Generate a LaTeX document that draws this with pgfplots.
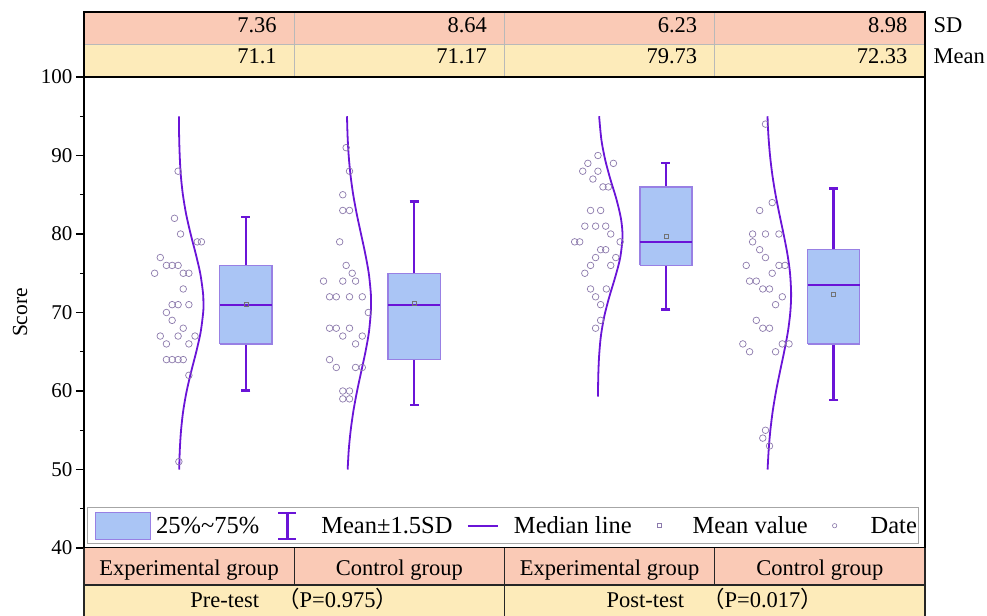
\documentclass[border=0pt]{standalone}
\usepackage{fontspec}
\setmainfont{Liberation Serif}
\newfontfamily\cjk{Noto Sans CJK SC}
\usepackage{pgfplots}
\pgfplotsset{compat=1.18}
\usepackage{pgfplotstable}

\definecolor{boxfill}{RGB}{170,197,245}
\definecolor{boxedge}{RGB}{152,128,228}
\definecolor{violetc}{RGB}{106,20,215}
\definecolor{scatc}{RGB}{140,122,172}
\definecolor{sdrow}{RGB}{250,202,182}
\definecolor{meanrow}{RGB}{253,235,186}
\newcommand\tabfont{\fontsize{22.5}{27}\selectfont}

% individual scores (x = jittered position, y = score)
\pgfplotstableread{
x y
1.128 51
1.119 88
1.076 82
1.148 80
1.347 79
1.396 79
0.907 77
0.980 76
1.048 76
1.119 76
0.840 75
1.180 75
1.247 75
1.180 73
1.048 71
1.119 71
1.247 71
0.980 70
1.048 69
1.180 68
0.907 67
1.119 67
1.320 67
0.980 66
1.247 66
0.980 64
1.048 64
1.119 64
1.180 64
1.247 62
}\preExp
\pgfplotstableread{
x y
3.117 91
3.157 88
3.077 85
3.077 83
3.157 83
3.040 79
3.117 76
3.189 75
2.848 74
3.077 74
3.229 74
2.920 72
3.000 72
3.157 72
3.309 72
3.381 70
2.920 68
3.000 68
3.157 68
3.077 67
3.309 67
3.229 66
2.920 64
3.000 63
3.229 63
3.309 63
3.077 60
3.157 60
3.077 59
3.157 59
}\preCtl
\pgfplotstableread{
x y
6.111 90
5.991 89
6.295 89
5.930 88
6.111 88
6.051 87
6.171 86
6.235 86
6.023 83
6.143 83
5.955 81
6.083 81
6.203 81
6.263 80
5.834 79
5.894 79
6.375 79
6.143 78
6.203 78
6.083 77
6.323 77
6.023 76
6.263 76
5.955 75
6.023 73
6.211 73
6.083 72
6.143 71
6.143 69
6.083 68
}\postExp
\pgfplotstableread{
x y
8.103 94
8.183 84
8.034 83
7.950 80
8.103 80
8.263 80
7.950 79
8.034 78
8.103 77
7.874 76
8.263 76
8.335 76
8.183 75
7.914 74
7.994 74
8.071 73
8.151 73
8.303 72
8.223 71
7.994 69
8.071 68
8.151 68
7.834 66
8.303 66
8.383 66
7.914 65
8.223 65
8.103 55
8.071 54
8.151 53
}\postCtl

\begin{document}
\begin{tikzpicture}
\begin{axis}[
  at={(0pt,0pt)}, anchor=south west,
  scale only axis, width=841pt, height=471pt,
  xmin=0, xmax=10, ymin=40, ymax=100,
  xtick=\empty,
  ytick={40,50,...,100}, minor y tick num=1,
  ytick pos=left, tick align=outside,
  major tick length=8pt, minor tick length=4pt,
  tick style={black, line width=1.3pt},
  axis line style={black, line width=1.4pt},
  /pgf/number format/assume math mode=true,
  yticklabel style={font=\fontsize{21}{21}\selectfont},
  ylabel={Score},
  ylabel style={font=\fontsize{21.5}{22}\selectfont, at={(axis description cs:-0.076,0.5)}, anchor=center},
  clip=false,
  legend columns=-1,
  legend style={
    at={(axis description cs:0.0036,0.0085)}, anchor=south west,
    draw=gray!70, line width=1pt, fill=white,
    inner xsep=2pt, inner ysep=3.5pt,
    font=\fontsize{24.5}{26}\selectfont,
    nodes={inner sep=0pt, text height=0.7em, text depth=0pt},
    column sep=0pt,
    /tikz/every even column/.style={column sep=0pt},
  },
]

% summary table above the plot: SD and Mean
\fill[sdrow] (0,104.08) rectangle (10,108.28);
\fill[meanrow] (0,100) rectangle (10,104.08);
\draw[gray!55, line width=1pt] (0,104.08) -- (10,104.08)
  (2.5,100) -- (2.5,108.28) (5,100) -- (5,108.28) (7.5,100) -- (7.5,108.28);
\draw[black, line width=1.4pt] (0,100) rectangle (10,108.28);
\node[anchor=base east, font=\tabfont, xshift=-14pt] at (2.5,105.67) {7.36};
\node[anchor=base east, font=\tabfont, xshift=-14pt] at (5,105.67) {8.64};
\node[anchor=base east, font=\tabfont, xshift=-14pt] at (7.5,105.67) {6.23};
\node[anchor=base east, font=\tabfont, xshift=-14pt] at (10,105.67) {8.98};
\node[anchor=base east, font=\tabfont, xshift=-14pt] at (2.5,101.66) {71.1};
\node[anchor=base east, font=\tabfont, xshift=-14pt] at (5,101.66) {71.17};
\node[anchor=base east, font=\tabfont, xshift=-14pt] at (7.5,101.66) {79.73};
\node[anchor=base east, font=\tabfont, xshift=-14pt] at (10,101.66) {72.33};
\node[anchor=base west, font=\tabfont, xshift=5pt] at (10,105.67) {SD};
\node[anchor=base west, font=\tabfont, xshift=5pt] at (10,101.66) {Mean};

% group table below the plot
\fill[sdrow] (0,35.29) rectangle (10,40);
\fill[meanrow] (0,31.34) rectangle (10,35.29);
\draw[black!85, line width=1.3pt] (0,35.29) -- (10,35.29)
  (2.5,35.29) -- (2.5,40) (5,31.34) -- (5,40) (7.5,35.29) -- (7.5,40)
  (0,31.34) -- (0,40) (10,31.34) -- (10,40);
\node[anchor=base, font=\tabfont] at (1.25,36.56) {Experimental group};
\node[anchor=base, font=\tabfont] at (3.75,36.56) {Control group};
\node[anchor=base, font=\tabfont] at (6.25,36.56) {Experimental group};
\node[anchor=base, font=\tabfont] at (8.75,36.56) {Control group};
\node[anchor=base, font=\tabfont] at (2.5,32.36) {Pre-test\hspace{18pt}{\cjk （}P=0.975{\cjk ）}};
\node[anchor=base, font=\tabfont] at (7.5,32.36) {Post-test\hspace{18pt}{\cjk （}P=0.017{\cjk ）}};

% fitted normal curves
\addplot[violetc, line width=1.8pt, smooth, forget plot] coordinates {
 (1.132,50) (1.139,52.5) (1.154,55) (1.180,57.5) (1.221,60) (1.275,62.5)
 (1.335,65) (1.387,67.5) (1.417,70) (1.420,71.1) (1.415,72.5) (1.382,75)
 (1.328,77.5) (1.268,80) (1.215,82.5) (1.176,85) (1.151,87.5) (1.138,90)
 (1.131,92.5) (1.129,95)};
\addplot[violetc, line width=1.8pt, smooth, forget plot] coordinates {
 (3.135,50) (3.148,52.5) (3.171,55) (3.204,57.5) (3.247,60) (3.297,62.5)
 (3.347,65) (3.388,67.5) (3.410,70) (3.413,71.17) (3.410,72.5) (3.386,75)
 (3.344,77.5) (3.294,80) (3.244,82.5) (3.201,85) (3.169,87.5) (3.147,90)
 (3.134,92.5) (3.127,95)};
\addplot[violetc, line width=1.8pt, smooth, forget plot] coordinates {
 (6.111,59.3) (6.115,62) (6.125,64.5) (6.146,67) (6.186,69.5) (6.246,72)
 (6.316,74.5) (6.376,77) (6.403,79.73) (6.384,82) (6.329,84.5) (6.258,87)
 (6.196,89.5) (6.152,92) (6.125,95)};
\addplot[violetc, line width=1.8pt, smooth, forget plot] coordinates {
 (8.128,50) (8.141,52.5) (8.161,55) (8.190,57.5) (8.229,60) (8.276,62.5)
 (8.325,65) (8.369,67.5) (8.398,70) (8.408,72.33) (8.395,75) (8.363,77.5)
 (8.318,80) (8.269,82.5) (8.223,85) (8.185,87.5) (8.157,90) (8.138,92.5)
 (8.127,95)};

% individual scores
\addplot[only marks, mark=o, mark size=3.3pt, mark options={draw=scatc, line width=0.7pt}, forget plot] table {\preExp};
\addplot[only marks, mark=o, mark size=3.3pt, mark options={draw=scatc, line width=0.7pt}, forget plot] table {\preCtl};
\addplot[only marks, mark=o, mark size=3.3pt, mark options={draw=scatc, line width=0.7pt}, forget plot] table {\postExp};
\addplot[only marks, mark=o, mark size=3.3pt, mark options={draw=scatc, line width=0.7pt}, forget plot] table {\postCtl};

% whiskers: mean +- 1.5 SD
\addplot[draw=none, mark=none, forget plot,
  error bars/.cd, y dir=both, y explicit,
  error bar style={violetc, line width=2.6pt},
  error mark options={rotate=90, violetc, line width=2.2pt, mark size=4.5pt}]
  coordinates {(1.925,71.1) +- (0,11.04) (3.925,71.17) +- (0,12.96)
               (6.92,79.73) +- (0,9.345) (8.915,72.33) +- (0,13.47)};

% interquartile boxes
\addplot[draw=boxedge, fill=boxfill, line width=1.3pt, line join=miter, forget plot]
  coordinates {(1.615,66) (2.235,66) (2.235,76) (1.615,76) (1.615,66)};
\addplot[draw=boxedge, fill=boxfill, line width=1.3pt, line join=miter, forget plot]
  coordinates {(3.615,64) (4.235,64) (4.235,75) (3.615,75) (3.615,64)};
\addplot[draw=boxedge, fill=boxfill, line width=1.3pt, line join=miter, forget plot]
  coordinates {(6.61,76) (7.23,76) (7.23,86) (6.61,86) (6.61,76)};
\addplot[draw=boxedge, fill=boxfill, line width=1.3pt, line join=miter, forget plot]
  coordinates {(8.605,66) (9.225,66) (9.225,78) (8.605,78) (8.605,66)};

% medians
\addplot[violetc, line width=2.2pt, forget plot] coordinates {(1.615,71) (2.235,71)};
\addplot[violetc, line width=2.2pt, forget plot] coordinates {(3.615,71) (4.235,71)};
\addplot[violetc, line width=2.2pt, forget plot] coordinates {(6.61,79) (7.23,79)};
\addplot[violetc, line width=2.2pt, forget plot] coordinates {(8.605,73.5) (9.225,73.5)};

% group means
\addplot[only marks, mark=square, mark size=2pt, mark options={draw=black!55, line width=0.6pt}, forget plot]
  coordinates {(1.925,71.1) (3.925,71.17) (6.92,79.73) (8.915,72.33)};

% legend
\addlegendimage{legend image code/.code={
  \path[draw=none, fill=none] (0pt,-9pt) rectangle (66.7pt,18pt);
  \draw[fill=boxfill, draw=boxedge, line width=1.2pt] (6pt,-9pt) rectangle (61pt,18pt);}}
\addlegendentry{25\%\textasciitilde 75\%}
\addlegendimage{legend image code/.code={
  \path[draw=none, fill=none] (0pt,-9pt) rectangle (62pt,18pt);
  \draw[violetc, line width=2.6pt] (28pt,-8.5pt) -- (28pt,17.5pt);
  \draw[violetc, line width=2.2pt] (19pt,-8.5pt) -- (37pt,-8.5pt) (19pt,17.5pt) -- (37pt,17.5pt);}}
\addlegendentry{Mean±1.5SD}
\addlegendimage{legend image code/.code={
  \path[draw=none, fill=none] (0pt,-9pt) rectangle (61.5pt,18pt);
  \draw[violetc, line width=1.6pt] (15.5pt,4.5pt) -- (45.5pt,4.5pt);}}
\addlegendentry{Median line}
\addlegendimage{legend image code/.code={
  \path[draw=none, fill=none] (0pt,-9pt) rectangle (61pt,18pt);
  \draw[scatc, line width=0.6pt, fill=none] (26pt,2.5pt) rectangle (30pt,6.5pt);}}
\addlegendentry{Mean value}
\addlegendimage{legend image code/.code={
  \path[draw=none, fill=none] (0pt,-9pt) rectangle (63pt,18pt);
  \draw[scatc, line width=0.6pt, fill=none] (27pt,4.5pt) circle (2.2pt);}}
\addlegendentry{Date}

\coordinate (bbsw) at (axis cs:-0.9988,31.34);
\coordinate (bbne) at (axis cs:10.737,109.81);
\end{axis}
\pgfresetboundingbox
\path[use as bounding box] (bbsw) rectangle (bbne);
\end{tikzpicture}
\end{document}
